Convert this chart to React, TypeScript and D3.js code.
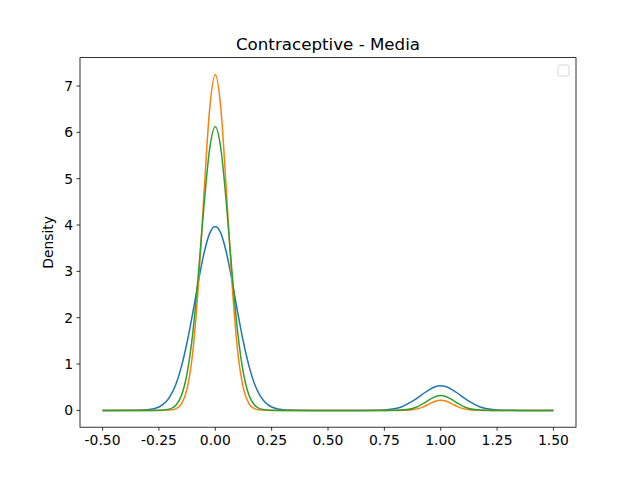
import React from "react";
import * as d3 from "d3";

const offsets = [0, 0.025, 0.05, 0.075, 0.1, 0.125, 0.15, 0.175, 0.2, 0.25, 0.3, 0.35];
const blue0 = [3.97, 3.82, 3.39, 2.78, 2.10, 1.47, 0.95, 0.56, 0.31, 0.074, 0.013, 0.002];
const blue1 = [0.53, 0.51, 0.45, 0.37, 0.28, 0.20, 0.13, 0.075, 0.041, 0.010, 0.002, 0];
const orange0 = [7.25, 6.50, 4.68, 2.70, 1.25, 0.47, 0.14, 0.033, 0.007, 0, 0, 0];
const orange1 = [0.22, 0.197, 0.142, 0.082, 0.038, 0.014, 0.004, 0.001, 0, 0, 0, 0];
const green0 = [6.12, 5.64, 4.42, 2.94, 1.66, 0.80, 0.32, 0.11, 0.033, 0.002, 0, 0];
const green1 = [0.32, 0.295, 0.231, 0.154, 0.087, 0.042, 0.017, 0.006, 0.002, 0, 0, 0];
const xTicks = [-0.5, -0.25, 0, 0.25, 0.5, 0.75, 1.0, 1.25, 1.5];
const yTicks = [0, 1, 2, 3, 4, 5, 6, 7];
const colors = ["#1f77b4", "#ff7f0e", "#2ca02c"];

function build(p0: number[], p1: number[]): [number, number][] {
  const pts: [number, number][] = [[-0.5, 0]];
  const side = (c: number, v: number[]) => {
    for (let i = v.length - 1; i > 0; i--) pts.push([c - offsets[i], v[i]]);
    for (let i = 0; i < v.length; i++) pts.push([c + offsets[i], v[i]]);
  };
  side(0, p0);
  pts.push([0.5, 0]);
  side(1, p1);
  pts.push([1.5, 0]);
  return pts;
}

export default function App() {
  const L = 80, R = 576, T = 57.6, B = 427.2;
  const x = d3.scaleLinear().domain([-0.6, 1.6]).range([L, R]);
  const y = d3.scaleLinear().domain([-0.3625, 7.6125]).range([B, T]);
  const line = d3.line<[number, number]>().x(d => x(d[0])).y(d => y(d[1])).curve(d3.curveMonotoneX);
  const series = [build(blue0, blue1), build(orange0, orange1), build(green0, green1)];
  const font = "DejaVu Sans";
  return (
    <svg width={640} height={480} style={{ position: "absolute", left: 0, top: 0 }} fontFamily={font}>
      <rect width={640} height={480} fill="white" />
      <text x={(L + R) / 2} y={50} textAnchor="middle" fontSize={16.7}>Contraceptive - Media</text>
      {series.map((s, i) => (
        <path key={i} d={line(s) || ""} fill="none" stroke={colors[i]} strokeWidth={1.5} />
      ))}
      <rect x={L} y={T} width={R - L} height={B - T} fill="none" stroke="black" strokeWidth={0.8} />
      {xTicks.map(t => (
        <g key={t}>
          <line x1={x(t)} x2={x(t)} y1={B} y2={B + 3.5} stroke="black" strokeWidth={0.8} />
          <text x={x(t)} y={B + 18} textAnchor="middle" fontSize={13.9}>{t.toFixed(2)}</text>
        </g>
      ))}
      {yTicks.map(t => (
        <g key={t}>
          <line x1={L - 3.5} x2={L} y1={y(t)} y2={y(t)} stroke="black" strokeWidth={0.8} />
          <text x={L - 7} y={y(t) + 5} textAnchor="end" fontSize={13.9}>{t}</text>
        </g>
      ))}
      <text transform={`translate(53,${(T + B) / 2}) rotate(-90)`} textAnchor="middle" fontSize={13.9}>Density</text>
      <rect x={558} y={65} width={11} height={11} rx={2} fill="white" stroke="#cccccc" strokeWidth={0.8} />
    </svg>
  );
}
